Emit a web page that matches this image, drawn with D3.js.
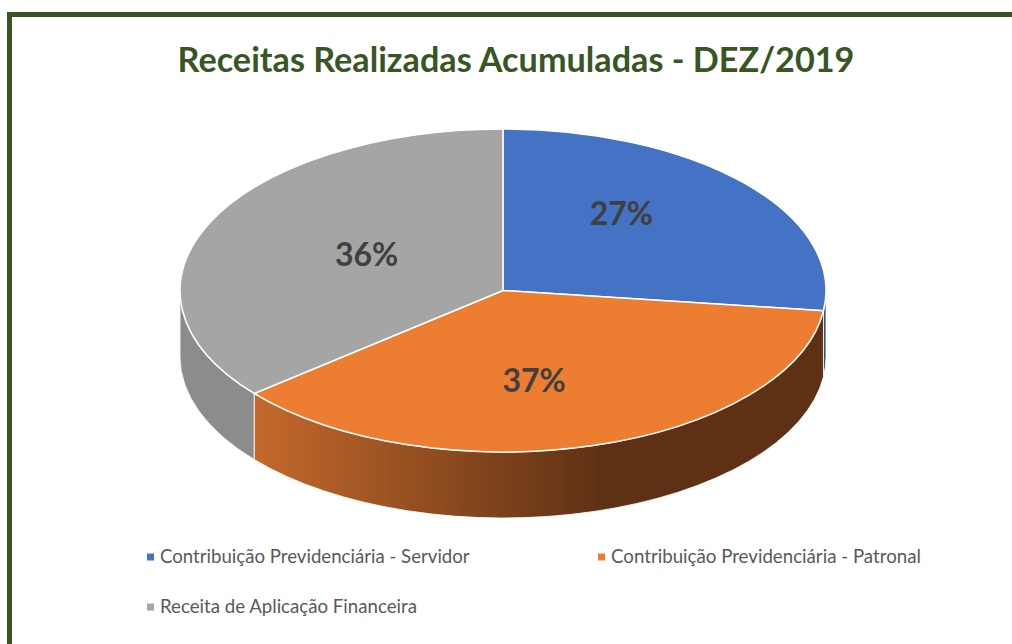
<!DOCTYPE html>
<html lang="pt">
<head>
<meta charset="utf-8">
<title>Receitas Realizadas Acumuladas - DEZ/2019</title>
<script src="https://cdn.jsdelivr.net/npm/d3@7"></script>
<style>
  body { margin: 0; background: #fff; }
  svg { display: block; }
</style>
</head>
<body>
<script>
// chart data
var categories = ["Contribuição Previdenciária - Servidor",
                  "Contribuição Previdenciária - Patronal",
                  "Receita de Aplicação Financeira"];
var shares = [27, 37, 36];
var labels = ["27%", "37%", "36%"];

var w = 1012, h = 644;
var cx = 503, cy = 290.5, rx = 323, ry = 161.5, depth = 66;

var topColors = ["#4472c4", "#ed7d31", "#a5a5a5"];
var sideColors = ["#2f528f", "url(#orangeSide)", "#8c8c8c"];

var svg = d3.select("body").append("svg")
  .attr("width", w).attr("height", h);

// frame (left and top edge visible)
svg.append("path")
  .attr("d", "M9.5," + h + "V14.5H" + w)
  .attr("fill", "none")
  .attr("stroke", "#375623")
  .attr("stroke-width", 5);

var defs = svg.append("defs");
var g1 = defs.append("linearGradient")
  .attr("id", "orangeSide")
  .attr("gradientUnits", "userSpaceOnUse")
  .attr("x1", cx - rx * 0.77).attr("x2", cx + rx * 0.3)
  .attr("y1", 0).attr("y2", 0);
g1.append("stop").attr("offset", 0).attr("stop-color", "#c4692c");
g1.append("stop").attr("offset", 1).attr("stop-color", "#5f3114");

// title
var title = svg.append("text")
  .attr("x", 516).attr("y", 72)
  .attr("text-anchor", "middle")
  .attr("font-family", "Lato, 'Open Sans', sans-serif")
  .attr("font-weight", "bold")
  .attr("font-size", 36)
  .attr("fill", "#375623")
  .text("Receitas Realizadas Acumuladas - DEZ/2019");
fitWidth(title, 677);

var pie = d3.pie().sort(null).value(function(d) { return d; });
var arcs = pie(shares);

function px(a, r) { return cx + (r == null ? 1 : r) * rx * Math.sin(a); }
function py(a, r) { return cy - (r == null ? 1 : r) * ry * Math.cos(a); }

// side walls (front half only: angles between PI/2 and 3PI/2)
arcs.forEach(function(d, i) {
  var a0 = Math.max(d.startAngle, Math.PI / 2);
  var a1 = Math.min(d.endAngle, Math.PI * 1.5);
  if (a1 <= a0) return;
  var large = (a1 - a0) > Math.PI ? 1 : 0;
  var p = "M" + px(a0) + "," + py(a0) +
          "A" + rx + "," + ry + " 0 " + large + " 1 " + px(a1) + "," + py(a1) +
          "L" + px(a1) + "," + (py(a1) + depth) +
          "A" + rx + "," + ry + " 0 " + large + " 0 " + px(a0) + "," + (py(a0) + depth) + "Z";
  svg.append("path")
    .attr("d", p)
    .attr("fill", sideColors[i])
    .attr("stroke", "#fff")
    .attr("stroke-width", 1)
    .attr("stroke-opacity", 0.8);
});

// top faces
svg.selectAll("path.top")
  .data(arcs)
  .enter()
  .append("path")
  .attr("class", "top")
  .attr("d", function(d) {
    var large = (d.endAngle - d.startAngle) > Math.PI ? 1 : 0;
    return "M" + cx + "," + cy +
           "L" + px(d.startAngle) + "," + py(d.startAngle) +
           "A" + rx + "," + ry + " 0 " + large + " 1 " + px(d.endAngle) + "," + py(d.endAngle) + "Z";
  })
  .attr("fill", function(d, i) { return topColors[i]; })
  .attr("stroke", "#fff")
  .attr("stroke-width", 1.5)
  .attr("stroke-linejoin", "round");

// data labels
var nudge = [[-27, -12], [-23, -3], [39, 6]];
svg.selectAll("text.lbl")
  .data(arcs)
  .enter()
  .append("text")
  .attr("class", "lbl")
  .attr("x", function(d, i) { var m = (d.startAngle + d.endAngle) / 2; return px(m, 0.6) + nudge[i][0]; })
  .attr("y", function(d, i) { var m = (d.startAngle + d.endAngle) / 2; return py(m, 0.6) + nudge[i][1] + 11; })
  .attr("text-anchor", "middle")
  .attr("font-family", "Lato, 'Open Sans', sans-serif")
  .attr("font-weight", "bold")
  .attr("font-size", 32)
  .attr("fill", "#404040")
  .text(function(d, i) { return labels[i]; });

// legend
var legX = [147, 598, 147], legY = [557, 557, 607], legW = [310, 310, 257];
var leg = svg.selectAll("g.leg")
  .data(categories)
  .enter()
  .append("g")
  .attr("class", "leg")
  .attr("transform", function(d, i) { return "translate(" + legX[i] + "," + legY[i] + ")"; });
leg.append("rect")
  .attr("x", 0).attr("y", -3.5).attr("width", 7).attr("height", 7)
  .attr("fill", function(d, i) { return topColors[i]; });
leg.append("text")
  .attr("x", 13).attr("y", 6)
  .attr("font-family", "Lato, 'Open Sans', sans-serif")
  .attr("font-size", 17)
  .attr("fill", "#595959")
  .text(function(d) { return d; })
  .each(function(d, i) { fitWidth(d3.select(this), legW[i]); });

function fitWidth(sel, target) {
  var node = sel.node();
  var fs = +sel.attr("font-size");
  var len = node.getComputedTextLength();
  if (len > 0) sel.attr("font-size", fs * target / len);
}
</script>
</body>
</html>
